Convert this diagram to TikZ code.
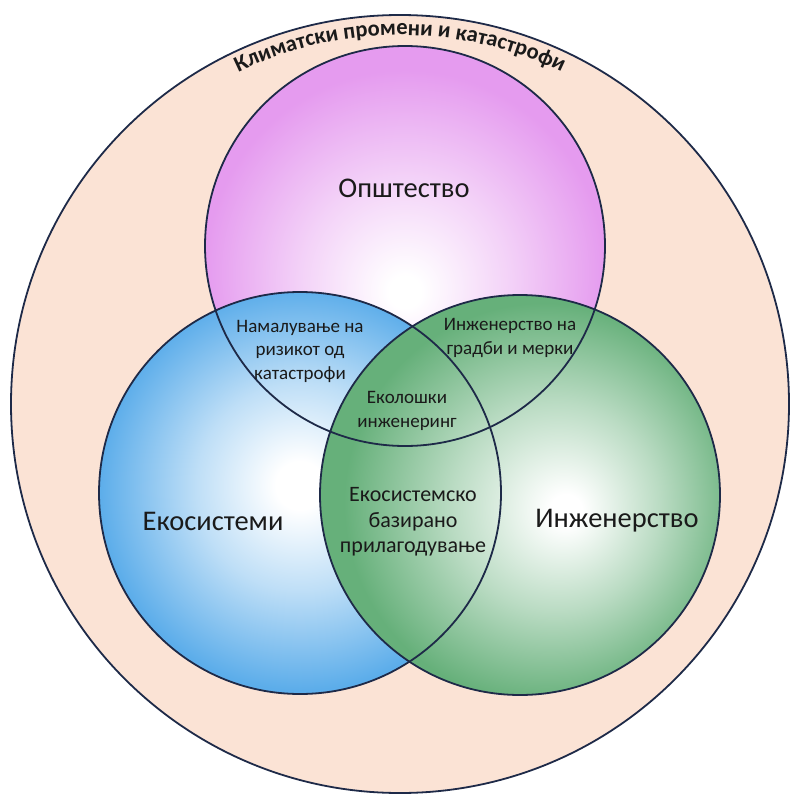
\documentclass[tikz,border=0pt]{standalone}
\usepackage{fontspec}
\setmainfont{Carlito}
\usetikzlibrary{decorations.text}
\definecolor{peach}{HTML}{FBE3D5}
\definecolor{linecol}{HTML}{1E2A48}
\definecolor{pinkedge}{HTML}{E59BEF}
\definecolor{blueedge}{HTML}{5CADEA}
\definecolor{greenedge}{HTML}{66B07A}
\definecolor{txt}{HTML}{1A1A1A}
\pgfdeclareradialshading{pinkshade}{\pgfpoint{0bp}{-6bp}}{color(0bp)=(white); color(2bp)=(white); color(13bp)=(pinkedge!45); color(25bp)=(pinkedge); color(50bp)=(pinkedge)}
\pgfdeclareradialshading{blueshade}{\pgfpoint{0bp}{1bp}}{color(0bp)=(white); color(3bp)=(white); color(13bp)=(blueedge!40); color(25bp)=(blueedge); color(50bp)=(blueedge)}
\pgfdeclareradialshading{greenshade}{\pgfpoint{6bp}{-2bp}}{color(0bp)=(white); color(2bp)=(white); color(13bp)=(greenedge!45); color(25bp)=(greenedge); color(50bp)=(greenedge)}
\tikzset{
  ring/.style={draw=linecol, line width=1.8pt},
  biglabel/.style={text=txt, font=\fontsize{28.5}{32}\selectfont, inner sep=0pt},
  midlabel/.style={text=txt, font=\fontsize{22}{25.5}\selectfont, align=center, inner sep=0pt},
  smalllabel/.style={text=txt, font=\fontsize{19}{23.5}\selectfont, align=center, inner sep=0pt}
}
\begin{document}
\begin{tikzpicture}[x=1pt,y=1pt]
\useasboundingbox (0,0) rectangle (789,-797);
% outer circle
\path[fill=peach, ring] (400,-404) circle (389);
% title along arc
\path[decorate, decoration={text along path, text align=center,
  text={|\bfseries\fontsize{22.5}{22.5}\selectfont\color{txt}|Климатски промени и катастрофи}}]
  (400,-404) ++(130:369) arc[start angle=130, end angle=50, radius=369];
% filled circles
\path[shading=pinkshade] (405,-246) circle (200);
\path[shading=blueshade] (300,-493) circle (201);
\path[shading=greenshade] (520,-495) circle (200);
% outlines
\path[ring] (405,-246) circle (200);
\path[ring] (300,-493) circle (201);
\path[ring] (520,-495) circle (200);
% labels
\node[biglabel] (soc) at (404,-188) {Општество};
\node[biglabel] (eco) at (213,-521) {Екосистеми};
\node[biglabel] (eng) at (617,-521) {Инженерство};
\node[smalllabel] (drr) at (300,-351) {Намалување на\\ризикот од\\катастрофи};
\node[smalllabel] (bld) at (510,-338) {Инженерство на\\градби и мерки};
\node[smalllabel] (ecoeng) at (407,-411) {Еколошки\\инженеринг};
\node[midlabel] (eba) at (413,-522) {Екосистемско\\базирано\\прилагодување};
\end{tikzpicture}
\end{document}
